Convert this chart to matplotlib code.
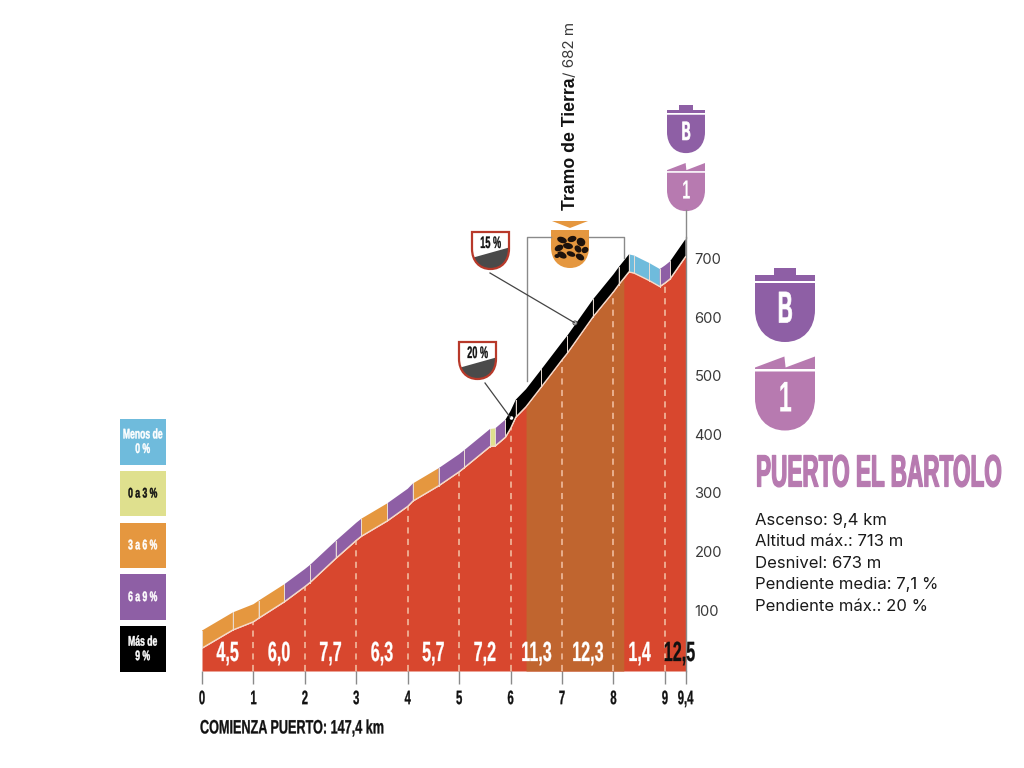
import matplotlib
matplotlib.use('Agg')
import matplotlib.pyplot as plt
from matplotlib.patches import PathPatch, Polygon, Rectangle, Ellipse, Circle
from matplotlib.path import Path
from matplotlib.patheffects import AbstractPathEffect
from matplotlib.transforms import Affine2D, Bbox

# datos del perfil
km = [0, 0.6, 1, 1.1, 1.6, 2, 2.1, 2.6, 3, 3.1, 3.6, 4, 4.1, 4.6, 5, 5.1, 5.6, 5.7, 5.9, 6,
      6.1, 6.3, 6.6, 7, 7.1, 7.6, 8, 8.1, 8.2, 8.3, 8.4, 8.7, 8.9, 9, 9.1, 9.4]
altitud = [35, 66, 80, 86, 114, 140, 147, 188, 219, 226, 252, 277, 286, 312, 336, 343, 379, 380, 395, 410,
           429, 447, 481, 527, 538, 600, 643, 655, 666, 677, 675, 662, 652, 658, 665, 703]
tramos_km = [0, 0.6, 1.1, 1.6, 2.1, 2.6, 3.1, 3.6, 4.1, 4.6, 5.1, 5.6, 5.7, 5.9,
             6.1, 6.6, 7.1, 7.6, 8.1, 8.3, 8.4, 8.7, 8.9, 9.1, 9.4]
tramos_tipo = ['n', 'n', 'n', 'm', 'm', 'm', 'n', 'm', 'n', 'm', 'm', 'a', 'm',
               'k', 'k', 'k', 'k', 'k', 'k', 'b', 'b', 'b', 'm', 'k']
pendientes = ['4,5', '6,0', '7,7', '6,3', '5,7', '7,2', '11,3', '12,3', '1,4', '12,5']
km_ticks = [0, 1, 2, 3, 4, 5, 6, 7, 8, 9, 9.4]
km_labels = ['0', '1', '2', '3', '4', '5', '6', '7', '8', '9', '9,4']
alt_ticks = [100, 200, 300, 400, 500, 600, 700]
tierra_ini, tierra_fin = 6.3, 8.2

leyenda_txt = ['Menos de\n0 %', '0 a 3 %', '3 a 6 %', '6 a 9 %', 'Más de\n9 %']
leyenda_tipo = ['b', 'a', 'n', 'm', 'k']
datos_txt = ['Ascenso: 9,4 km', 'Altitud máx.: 713 m', 'Desnivel: 673 m',
             'Pendiente media: 7,1 %', 'Pendiente máx.: 20 %']

colores = {'b': '#6fbbdc', 'a': '#dfe08e', 'n': '#e5973f', 'm': '#8e5fa5', 'k': '#000000'}
ROJO = '#d8472e'
TIERRA = '#c0652f'
MORADO = '#8e5fa5'
ROSA = '#b77ab0'
GRIS = '#8a8a8a'
BANDA = 30


class Estrecha(AbstractPathEffect):
    # estrecha el texto en horizontal, no hay fuente condensada instalada
    def __init__(self, sx, ancla='center', grosor=0.0):
        super().__init__()
        self.sx = sx
        self.ancla = ancla
        self.grosor = grosor

    def draw_path(self, renderer, gc, tpath, affine, rgbFace=None):
        ext = tpath.get_extents()
        cx = (ext.x0 + ext.x1) / 2 if self.ancla == 'center' else 0
        t = Affine2D().translate(-cx, 0).scale(self.sx, 1).translate(cx, 0) + affine
        gc0 = renderer.new_gc()
        gc0.copy_properties(gc)
        if self.grosor > 0:
            gc0.set_linewidth(self.grosor)
            gc0.set_foreground(rgbFace)
        else:
            gc0.set_linewidth(0)
        renderer.draw_path(gc0, tpath, t, rgbFace)
        gc0.restore()


def estrechar(t, sx, ancla='center', grosor=0.0):
    # efecto de trazo y caja del texto ajustada al ancho real
    t.set_path_effects([Estrecha(sx, ancla, grosor)])
    orig = t.get_window_extent

    def extent(renderer=None, dpi=None):
        b = orig(renderer, dpi)
        if ancla == 'center':
            cx = (b.x0 + b.x1) / 2
            return Bbox([[cx - b.width * sx / 2, b.y0], [cx + b.width * sx / 2, b.y1]])
        return Bbox([[b.x0, b.y0], [b.x0 + b.width * sx, b.y1]])
    t.get_window_extent = extent
    return t


def titular(x, y, s, size, sx, color='white', ha='center', grosor=0.0):
    t = fondo.text(x, y, s, fontsize=size, fontweight='bold', family='Liberation Sans', color=color,
                   ha=ha, va='center', linespacing=1.05)
    return estrechar(t, sx, 'center' if ha == 'center' else 'left', grosor)


def escudo_path(x0, x1, top, bottom):
    xc = (x0 + x1) / 2
    ym = top + (bottom - top) * 0.45
    k = (bottom - ym) * 0.6
    verts = [(x0, top), (x1, top), (x1, ym), (x1, ym + k), (xc + (x1 - xc) * 0.6, bottom), (xc, bottom),
             (xc - (x1 - xc) * 0.6, bottom), (x0, ym + k), (x0, ym), (x0, top)]
    codes = [Path.MOVETO, Path.LINETO, Path.LINETO, Path.CURVE4, Path.CURVE4, Path.CURVE4,
             Path.CURVE4, Path.CURVE4, Path.CURVE4, Path.CLOSEPOLY]
    return Path(verts, codes)


def escudo_b(x0, x1, y0, esc, size):
    # y0 es el borde de arriba de la tapa
    w = x1 - x0
    fondo.add_patch(Rectangle((x0 + w * 0.32, y0), w * 0.36, 7 * esc, color=MORADO, lw=0))
    fondo.add_patch(Rectangle((x0, y0 + 7 * esc), w, 6 * esc, color=MORADO, lw=0))
    fondo.add_patch(PathPatch(escudo_path(x0, x1, y0 + 15 * esc, y0 + 74 * esc), fc=MORADO, lw=0))
    titular((x0 + x1) / 2, y0 + 43 * esc, 'B', size, 0.47, grosor=0.5)


def escudo_1(x0, x1, y0, esc, size):
    w = x1 - x0
    fondo.add_patch(Polygon([(x0, y0 + 11 * esc), (x0 + w * 0.49, y0), (x0 + w * 0.51, y0 + 11 * esc),
                             (x1, y0), (x1, y0 + 12.5 * esc), (x0, y0 + 12.5 * esc)], color=ROSA, lw=0))
    fondo.add_patch(PathPatch(escudo_path(x0, x1, y0 + 15 * esc, y0 + 74 * esc), fc=ROSA, lw=0))
    titular((x0 + x1) / 2, y0 + 44 * esc, '1', size, 0.55)


def escudo_pct(x0, x1, top, bottom, texto):
    base = PathPatch(escudo_path(x0, x1, top, bottom), fc='white', lw=0)
    fondo.add_patch(base)
    cuna = Polygon([(x0, top + 0.70 * (bottom - top)), (x1, top + 0.42 * (bottom - top)),
                    (x1, bottom), (x0, bottom)], color='#4a4a4a', lw=0)
    fondo.add_patch(cuna)
    cuna.set_clip_path(base)
    fondo.add_patch(PathPatch(escudo_path(x0, x1, top, bottom), fc='none', ec='#b8392a', lw=1.6))
    titular((x0 + x1) / 2, top + 11.5, texto, 12, 0.55, color='#111111', grosor=0.2)


fig = plt.figure(figsize=(10.24, 7.68), dpi=100)

# capa de fondo en pixeles para los adornos
fondo = fig.add_axes([0, 0, 1, 1], zorder=3)
fondo.set_xlim(0, 1024)
fondo.set_ylim(768, 0)
fondo.axis('off')
fondo.patch.set_alpha(0)

# perfil
ax = fig.add_axes([202 / 1024, (768 - 671) / 768, 483.5 / 1024, 434 / 768], zorder=1)
ax.set_xlim(0, 9.4)
ax.set_ylim(-4, 736.6)
ax.fill_between(km, -4, altitud, color=ROJO, lw=0, zorder=1)

tierra_x = [k for k in km if tierra_ini <= k <= tierra_fin]
tierra_y = [a for k, a in zip(km, altitud) if tierra_ini <= k <= tierra_fin]
ax.fill_between(tierra_x, -4, tierra_y, color=TIERRA, lw=0, zorder=2)

for i, tipo in enumerate(tramos_tipo):
    x_seg = [k for k in km if tramos_km[i] <= k <= tramos_km[i + 1]]
    y_seg = [a for k, a in zip(km, altitud) if tramos_km[i] <= k <= tramos_km[i + 1]]
    ax.fill_between(x_seg, y_seg, [a + BANDA for a in y_seg], facecolor=colores[tipo], lw=0, zorder=3)
    ax.plot([x_seg[0], x_seg[0]], [y_seg[0], y_seg[0] + BANDA], color='#e9dcd4', lw=0.7, zorder=4)

ax.plot(km, altitud, color='#f6d9c8', lw=1.0, zorder=5)

# km con linea discontinua
for k in km_ticks[1:-1]:
    ax.plot([k, k], [-4, altitud[km.index(k)]], color='#f4c4a8', lw=1.1, ls=(0, (4, 3.5)), zorder=4)

# pendiente de cada km
for i, p in enumerate(pendientes):
    medio = (km_ticks[i] + km_ticks[i + 1]) / 2
    color = 'white'
    if i == len(pendientes) - 1:
        medio += 0.08
        color = '#111111'
    t = ax.text(medio, 25, p, color=color, fontsize=20, fontweight='bold', family='Liberation Sans',
                ha='center', va='center', zorder=6, clip_on=False)
    estrechar(t, 0.58, grosor=0.2)

for lado in ['top', 'left', 'bottom']:
    ax.spines[lado].set_visible(False)
ax.spines['right'].set_color(GRIS)
ax.spines['right'].set_linewidth(1.0)
ax.patch.set_alpha(0)

ax.set_xticks(km_ticks)
ax.set_xticklabels(km_labels)
ax.tick_params(axis='x', length=9, width=1.0, color=GRIS, pad=5.5)
for t in ax.get_xticklabels():
    t.set_fontsize(14)
    t.set_fontweight('bold')
    t.set_family('Liberation Sans')
    t.set_color('#111111')
    t.set_path_effects([Estrecha(0.58, grosor=0.2)])

ax.yaxis.tick_right()
ax.set_yticks(alt_ticks)
ax.tick_params(axis='y', length=0, pad=6.5, labelsize=10.6, labelcolor='#3a3a3a')
for t in ax.get_yticklabels():
    t.set_family('Inter')

# leyenda
for i, (txt, tipo) in enumerate(zip(leyenda_txt, leyenda_tipo)):
    y0 = 419 + i * 51.8
    fondo.add_patch(Rectangle((120, y0), 45.5, 45.5, color=colores[tipo], lw=0))
    titular(142.7, y0 + 22.7, txt, 10, 0.62, color='#111111' if tipo == 'a' else 'white', grosor=0.3)

# linea a la cima y escudos pequenos
fondo.plot([686, 686], [210, 238], color=GRIS, lw=1.0)
escudo_b(667, 705, 105, 0.65, 19)
escudo_1(667, 705, 163, 0.65, 19)

# escudos grandes
escudo_b(755, 815, 268, 1.0, 32)
escudo_1(755, 815, 356.5, 1.0, 31)

# tramo de tierra
fondo.plot([526.5, 526.5, 551], [381, 236.5, 236.5], color=GRIS, lw=1.0)
fondo.plot([589, 624, 624], [236.5, 236.5, 258], color=GRIS, lw=1.0)
fondo.add_patch(Polygon([(552, 221), (588, 221), (570, 228)], color='#e5973f', lw=0))
fondo.add_patch(PathPatch(escudo_path(551, 589, 230, 268), fc='#e5973f', lw=0))
piedras = [(562, 240, 10, 6, 20), (572, 239, 9, 6, -15), (581, 242, 9, 8, 40), (559, 248, 9, 6, -25),
           (568, 246, 10, 6, 10), (578, 249, 8, 6, 50), (585, 250, 6, 7, 60), (562, 255, 10, 6, 30),
           (571, 254, 9, 5, 20), (580, 257, 9, 6, 30), (557, 256, 5, 4, 0)]
for x, y, w, h, ang in piedras:
    fondo.add_patch(Ellipse((x, y), w, h, angle=ang, color='#1d120c', lw=0))

fondo.text(570.5, 210, 'Tramo de Tierra', rotation=90, ha='center', va='bottom', fontsize=12.7,
           fontweight='bold', family='Liberation Sans', color='#111111')
fondo.text(570.5, 77, '/ 682 m', rotation=90, ha='center', va='bottom', fontsize=10.9,
           family='Inter', color='#3a3a3a')

# pendientes maximas
fondo.plot([490, 575], [273, 323], color='#444444', lw=0.9)
fondo.add_patch(Circle((575, 323), 2, fc='white', ec='#444444', lw=0.7))
escudo_pct(472, 509, 232, 269, '15 %')
fondo.plot([485, 510], [383, 417], color='#444444', lw=0.9)
fondo.add_patch(Circle((511.5, 418), 1.8, fc='white', ec='none'))
escudo_pct(459, 496, 342, 379, '20 %')

# textos
titular(756, 475, 'PUERTO EL BARTOLO', 32.5, 0.5, color=ROSA, ha='left', grosor=0.9)
for i, s in enumerate(datos_txt):
    fondo.text(755, 520.5 + i * 21.5, s, fontsize=12, family='Inter', color='#1a1a1a', va='center')
titular(200, 729, 'COMIENZA PUERTO: 147,4 km', 14, 0.65, color='#111111', ha='left', grosor=0.2)

plt.savefig('out.png', dpi=100)
